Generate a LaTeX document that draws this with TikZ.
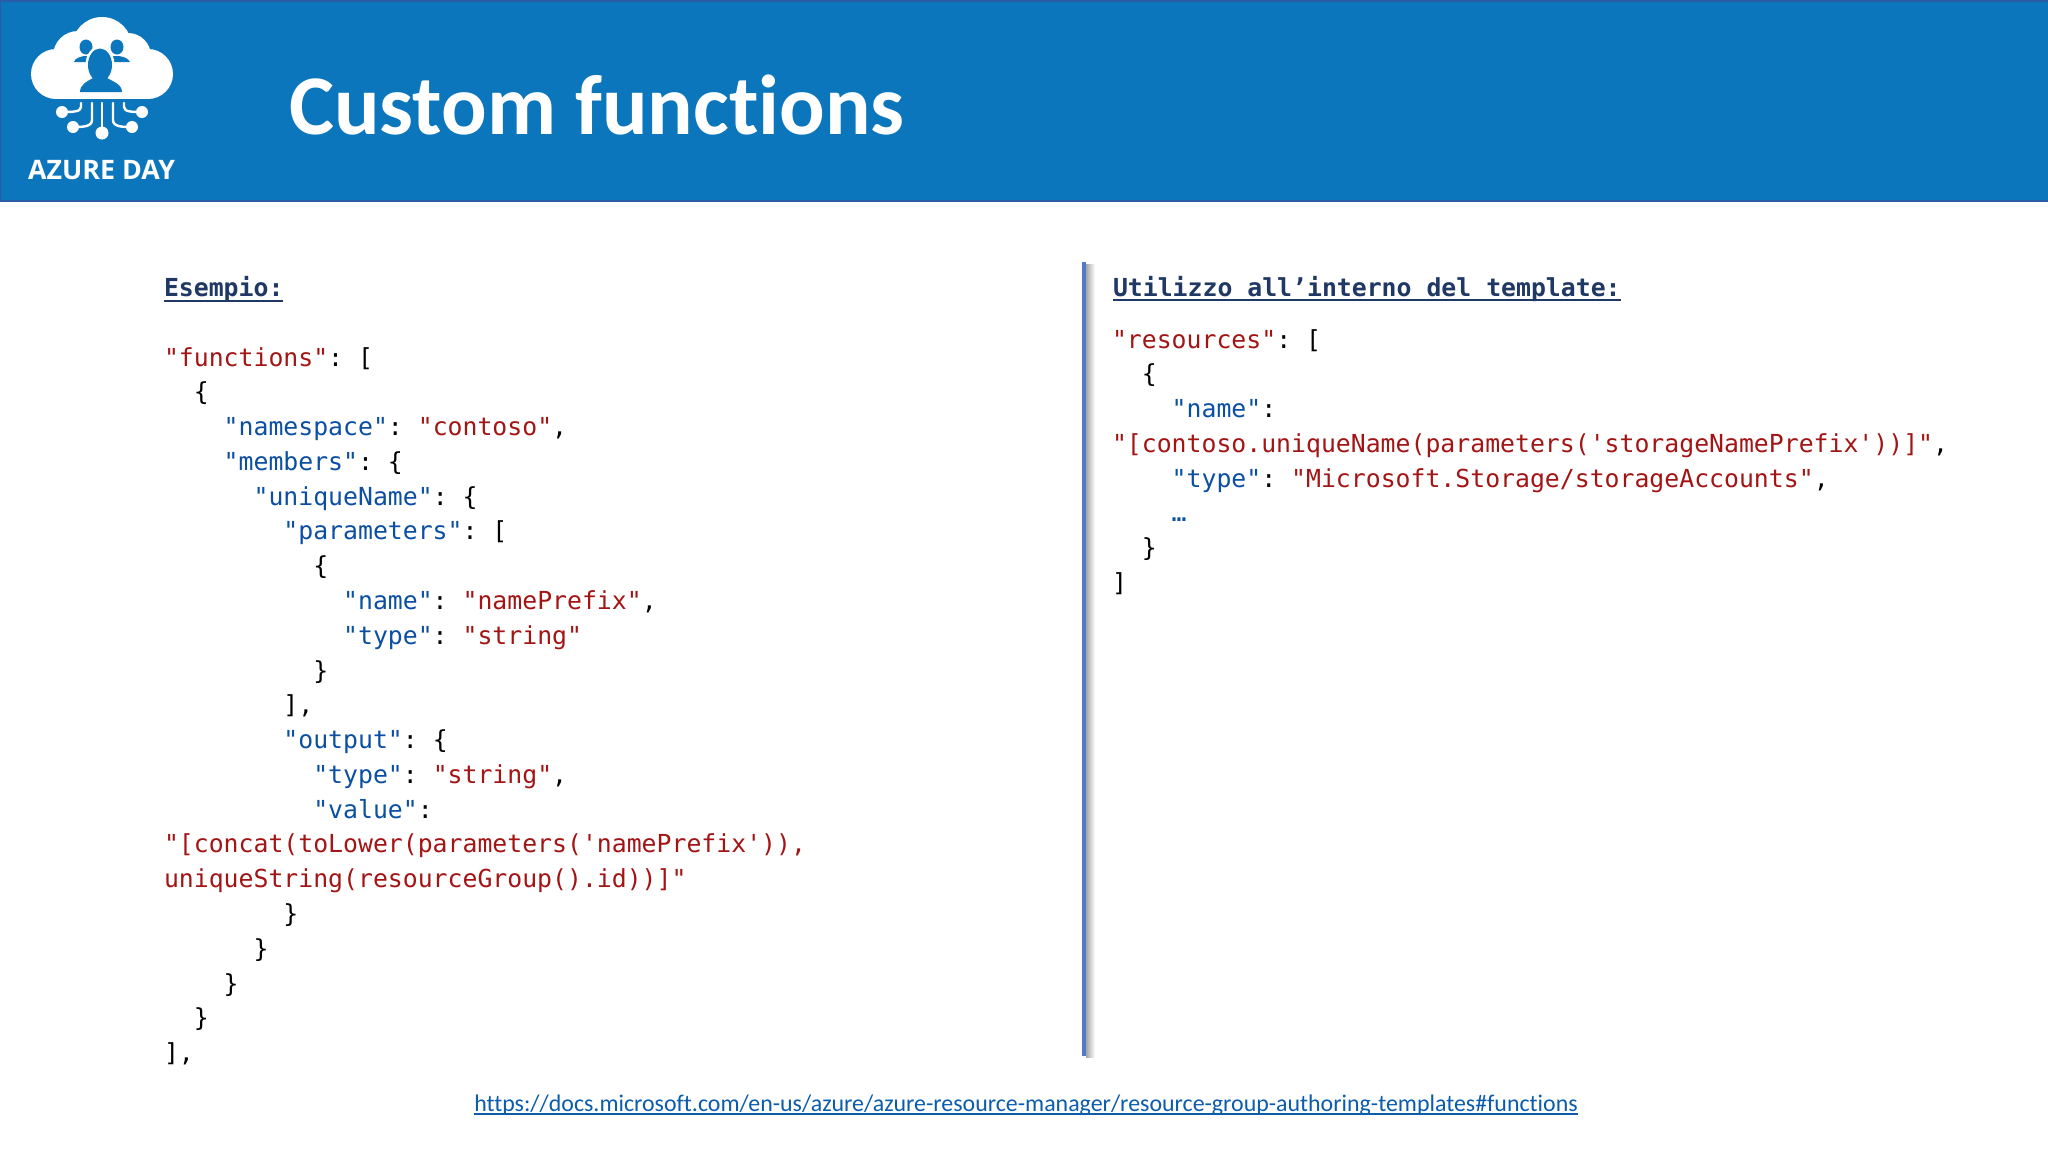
\documentclass[tikz,border=0pt]{standalone}
\usepackage{fontspec}
\setmainfont{Carlito}[Ligatures={NoCommon,NoRare}]
\newfontfamily\codefont{DejaVu Sans Mono}
\newfontfamily\logofont{Open Sans}
\definecolor{headblue}{HTML}{0C76BD}
\definecolor{headedge}{HTML}{2A5CA6}
\definecolor{keyblue}{HTML}{0B4FA3}
\definecolor{strred}{HTML}{A31515}
\definecolor{navy}{HTML}{1F3864}
\definecolor{barblue}{HTML}{4F7CC8}
\definecolor{linkblue}{HTML}{0B5CAD}
\newcommand{\jk}[1]{\textcolor{keyblue}{#1}}
\newcommand{\js}[1]{\textcolor{strred}{#1}}
\tikzset{
  codeline/.style={anchor=base west,inner sep=0pt,outer sep=0pt,font=\codefont\fontsize{24.8}{30}\selectfont\frenchspacing,text=black},
  headline/.style={anchor=base west,inner sep=0pt,outer sep=0pt,font=\codefont\bfseries\fontsize{24.8}{30}\selectfont\frenchspacing,text=navy},
  rule/.style={draw=navy,line width=2.2pt},
  wire/.style={draw=white,line width=2.4pt,line cap=round},
}
\newcommand{\lcode}[4]{\pgfmathsetmacro{\px}{164+#2*14.93}\pgfmathsetmacro{\py}{366+#3*34.78}\node[codeline] (#1) at (\px,\py) {#4};}
\newcommand{\rcode}[4]{\pgfmathsetmacro{\px}{1112+#2*14.93}\pgfmathsetmacro{\py}{348+#3*34.75}\node[codeline] (#1) at (\px,\py) {#4};}
\begin{document}
\begin{tikzpicture}[x=1pt,y=-1pt]
\useasboundingbox (0,0) rectangle (2048,1152);
\fill[white] (0,0) rectangle (2048,1152);
% header
\fill[headblue] (0,0) rectangle (2048,201);
\draw[headedge,line width=1.6pt] (0,0.8) -- (2048,0.8);
\draw[headedge,line width=1.6pt] (0,201) -- (2048,201);
\draw[headedge,line width=1.4pt] (0.7,0) -- (0.7,201);
% logo: cloud
\fill[white] (56,74) circle[radius=25];
\fill[white] (78,56) circle[radius=25];
\fill[white] (102,47) circle[radius=30];
\fill[white] (128,56) circle[radius=23];
\fill[white] (148,74) circle[radius=25];
\fill[white] (56,62) rectangle (148,99);
% logo: people
\fill[headblue] (86,47) circle[x radius=6.5,y radius=7.5];
\fill[headblue] (117,47) circle[x radius=6.5,y radius=7.5];
\fill[headblue] (74,62) .. controls (75,58) and (80,57) .. (84,56) -- (90,56) -- (92,62) -- cycle;
\fill[headblue] (111,62) -- (113,56) -- (119,56) .. controls (124,57) and (128,58) .. (130,62) -- cycle;
\fill[white] (100,65) circle[x radius=14.5,y radius=19];
\fill[headblue] (100,65) circle[x radius=12,y radius=16.5];
\fill[headblue] (80,92) .. controls (80,84) and (88,81) .. (93,78) -- (107,78) .. controls (112,81) and (122,84) .. (122,92) -- cycle;
% logo: wires
\draw[wire] (81,103) -- (81,107) .. controls (81,112) and (72,112) .. (62,112);
\draw[wire] (92,103) -- (92,120) .. controls (92,127) and (82,127) .. (73,127);
\draw[wire] (102,103) -- (102,133);
\draw[wire] (113,103) -- (113,120) .. controls (113,127) and (123,127) .. (132,127);
\draw[wire] (124,103) -- (124,107) .. controls (124,112) and (133,112) .. (142,112);
\fill[white] (62,112) circle[radius=6];
\fill[white] (73,127) circle[radius=6];
\fill[white] (102,133) circle[radius=6.5];
\fill[white] (132,127) circle[radius=6];
\fill[white] (142,112) circle[radius=6];
\node[anchor=base west,inner sep=0pt,text=white,font=\logofont\bfseries\fontsize{26.8}{30}\selectfont] (azure) at (28,179) {AZURE DAY};
% title
\node[anchor=base west,inner sep=0pt,text=white,font=\bfseries\fontsize{85}{95}\selectfont] (title) at (289,134) {Custom functions};
% divider
\shade[left color=black!35,right color=white] (1086,264) rectangle (1095,1057);
\fill[barblue] (1081.5,262) rectangle (1086,1056);
% left heading
\node[headline] (esempio) at (164,296) {Esempio:};
\draw[rule] ([yshift=-5pt]esempio.base west) -- ([yshift=-5pt]esempio.base east);
% left code
\lcode{l0}{0}{0}{\js{"functions"}: [}
\lcode{l1}{2}{1}{\{}
\lcode{l2}{4}{2}{\jk{"namespace"}: \js{"contoso"},}
\lcode{l3}{4}{3}{\jk{"members"}: \{}
\lcode{l4}{6}{4}{\jk{"uniqueName"}: \{}
\lcode{l5}{8}{5}{\jk{"parameters"}: [}
\lcode{l6}{10}{6}{\{}
\lcode{l7}{12}{7}{\jk{"name"}: \js{"namePrefix"},}
\lcode{l8}{12}{8}{\jk{"type"}: \js{"string"}}
\lcode{l9}{10}{9}{\}}
\lcode{l10}{8}{10}{],}
\lcode{l11}{8}{11}{\jk{"output"}: \{}
\lcode{l12}{10}{12}{\jk{"type"}: \js{"string"},}
\lcode{l13}{10}{13}{\jk{"value"}:}
\lcode{l14}{0}{14}{\js{"[concat(toLower(parameters('namePrefix')),}}
\lcode{l15}{0}{15}{\js{uniqueString(resourceGroup().id))]"}}
\lcode{l16}{8}{16}{\}}
\lcode{l17}{6}{17}{\}}
\lcode{l18}{4}{18}{\}}
\lcode{l19}{2}{19}{\}}
\lcode{l20}{0}{20}{],}
% right heading
\node[headline] (utilizzo) at (1113,296) {Utilizzo all’interno del template:};
\draw[rule] ([yshift=-4pt]utilizzo.base west) -- ([yshift=-4pt]utilizzo.base east);
% right code
\rcode{r0}{0}{0}{\js{"resources"}: [}
\rcode{r1}{2}{1}{\{}
\rcode{r2}{4}{2}{\jk{"name"}:}
\rcode{r3}{0}{3}{\js{"[contoso.uniqueName(parameters('storageNamePrefix'))]"},}
\rcode{r4}{4}{4}{\jk{"type"}: \js{"Microsoft.Storage/storageAccounts"},}
\rcode{r5}{4}{5}{\jk{…}}
\rcode{r6}{2}{6}{\}}
\rcode{r7}{0}{7}{]}
% link
\node[anchor=base,inner sep=0pt,text=linkblue,font=\fontsize{23.9}{30}\selectfont] (link) at (1026,1111) {https://docs.microsoft.com/en-us/azure/azure-resource-manager/resource-group-authoring-templates\#functions};
\draw[linkblue,line width=1.3pt] ([yshift=-3pt]link.base west) -- ([yshift=-3pt]link.base east);
\end{tikzpicture}
\end{document}
